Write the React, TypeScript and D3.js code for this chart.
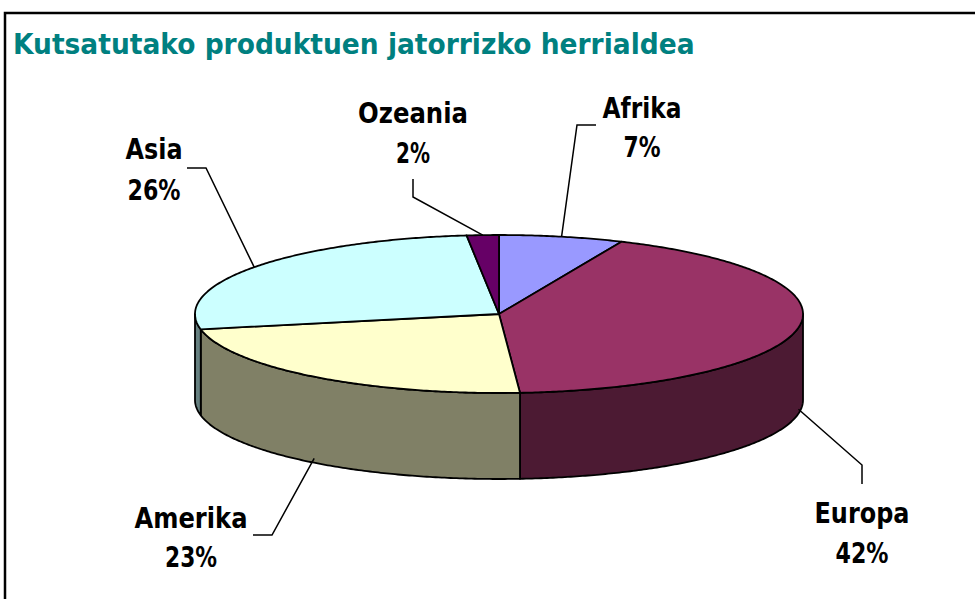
import React, { useLayoutEffect, useRef, useState } from "react";
import * as d3 from "d3";

const title = "Kutsatutako produktuen jatorrizko herrialdea";
const categories = ["Afrika", "Europa", "Amerika", "Asia", "Ozeania"];
const values = [6.6, 42.3, 23.0, 26.4, 1.7];
const topColors = ["#9999FF", "#993366", "#FFFFCC", "#CCFFFF", "#660066"];
const sideColors = ["#4D4D80", "#4C1A33", "#808066", "#668080", "#330033"];

// label layout: centre x, baseline of name, baseline of percent, name width, pct width, leader elbow, leader end
const labelLayout = [
  { x: 642, y1: 118, y2: 157, w1: 79, w2: 37, elbow: [577, 125], end: [596, 125], onBottom: false },
  { x: 862, y1: 523, y2: 563, w1: 95, w2: 53, elbow: [862, 465], end: [862, 484], onBottom: true },
  { x: 191, y1: 528, y2: 567, w1: 113, w2: 52, elbow: [272, 535], end: [253, 535], onBottom: true },
  { x: 154, y1: 159, y2: 200, w1: 57, w2: 53, elbow: [206, 168], end: [187, 168], onBottom: false },
  { x: 413, y1: 123, y2: 163, w1: 110, w2: 34, elbow: [413, 197], end: [413, 179], onBottom: false },
];

const W = 975;
const H = 599;
const cx = 499;
const cy = 314;
const rx = 304;
const ry = 79;
const depth = 86;

function pt(a: number, dy = 0): [number, number] {
  return [cx + rx * Math.sin(a), cy - ry * Math.cos(a) + dy];
}

function arcPts(a0: number, a1: number, dy = 0): [number, number][] {
  const n = Math.max(2, Math.ceil(Math.abs(a1 - a0) / 0.01));
  return d3.range(n + 1).map((i) => pt(a0 + ((a1 - a0) * i) / n, dy));
}

function FitText(props: {
  x: number;
  y: number;
  width: number;
  anchor: "start" | "middle";
  children: string;
  [k: string]: any;
}) {
  const { x, y, width, anchor, children, ...rest } = props;
  const ref = useRef<SVGTextElement>(null);
  const [sx, setSx] = useState(1);
  useLayoutEffect(() => {
    if (ref.current) {
      const len = ref.current.getComputedTextLength();
      if (len > 0) setSx(width / len);
    }
  }, [width, children]);
  return (
    <g transform={`translate(${x},${y}) scale(${sx},1)`}>
      <text ref={ref} x={0} y={0} textAnchor={anchor} {...rest}>
        {children}
      </text>
    </g>
  );
}

export default function App() {
  const pie = d3.pie<number>().sort(null).value((d) => d);
  const arcs = pie(values);
  const line = d3.line();
  const pct = d3.format(".0%");

  const sides = arcs
    .map((a, i) => {
      const s = Math.max(a.startAngle, Math.PI / 2);
      const e = Math.min(a.endAngle, (3 * Math.PI) / 2);
      if (e <= s) return null;
      const pts = [...arcPts(s, e, 0), ...arcPts(e, s, depth)];
      return { i, d: line(pts) + "Z" };
    })
    .filter(Boolean) as { i: number; d: string }[];

  const tops = arcs.map((a, i) => {
    const pts: [number, number][] = [[cx, cy], ...arcPts(a.startAngle, a.endAngle, 0)];
    return { i, d: line(pts) + "Z" };
  });

  const font = "'DejaVu Sans', Verdana, sans-serif";

  return (
    <svg
      width={W}
      height={H}
      style={{ position: "absolute", left: 0, top: 0, background: "#fff" }}
    >
      <rect x={5} y={13} width={W + 10} height={H + 10} fill="#fff" stroke="#000" strokeWidth={2.5} />
      <FitText
        x={13}
        y={54}
        width={682}
        anchor="start"
        fill="#008080"
        fontFamily={font}
        fontWeight="bold"
        fontSize={29}
      >
        {title}
      </FitText>
      <g stroke="#000" strokeWidth={1.8} strokeLinejoin="round">
        {sides.map((s) => (
          <path key={"s" + s.i} d={s.d} fill={sideColors[s.i]} />
        ))}
        {tops.map((t) => (
          <path key={"t" + t.i} d={t.d} fill={topColors[t.i]} />
        ))}
      </g>
      <g stroke="#000" strokeWidth={1.5} fill="none">
        {arcs.map((a, i) => {
          const L = labelLayout[i];
          const mid = (a.startAngle + a.endAngle) / 2;
          const p = pt(mid, L.onBottom ? depth * 0.95 : 0);
          return <path key={"l" + i} d={line([p, L.elbow as [number, number], L.end as [number, number]]) || ""} />;
        })}
      </g>
      <g fontFamily={font} fontWeight="bold" fontSize={28} fill="#000">
        {arcs.map((a, i) => {
          const L = labelLayout[i];
          return (
            <g key={"txt" + i}>
              <FitText x={L.x} y={L.y1} width={L.w1} anchor="middle">
                {categories[i]}
              </FitText>
              <FitText x={L.x} y={L.y2} width={L.w2} anchor="middle">
                {pct(values[i] / 100)}
              </FitText>
            </g>
          );
        })}
      </g>
    </svg>
  );
}
